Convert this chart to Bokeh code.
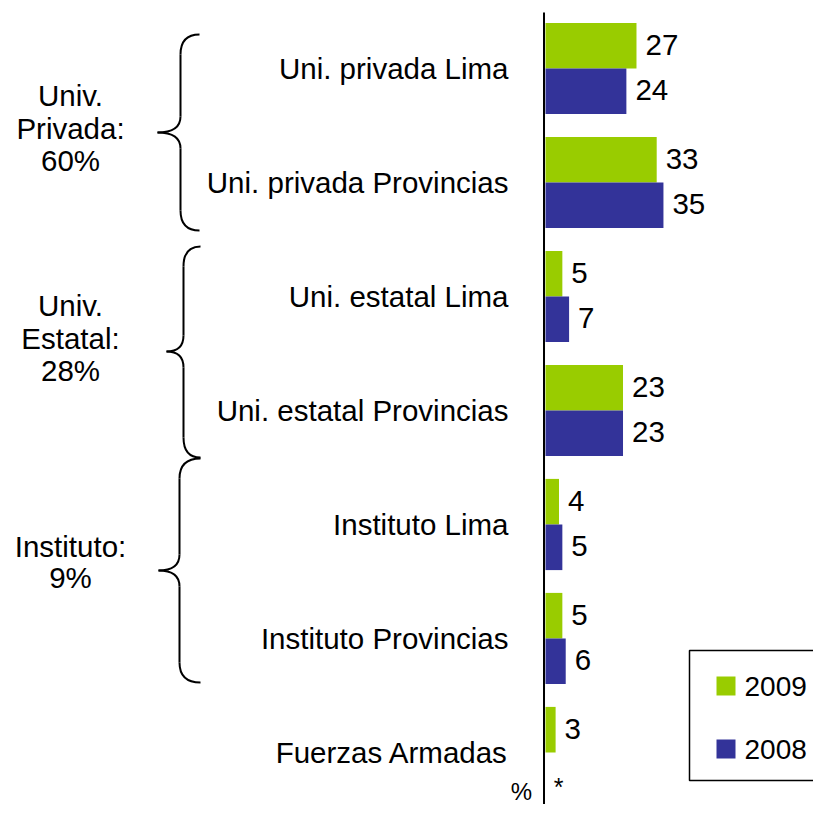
from bokeh.plotting import figure
from bokeh.models import Range1d, ColumnDataSource
from bokeh.core.properties import value
from bokeh.embed import file_html
from bokeh.resources import INLINE

# ---------------- data ----------------
categories = ["Uni. privada Lima", "Uni. privada Provincias", "Uni. estatal Lima",
              "Uni. estatal Provincias", "Instituto Lima", "Instituto Provincias",
              "Fuerzas Armadas"]
v2009 = [27, 33, 5, 23, 4, 5, 3]
v2008 = [24, 35, 7, 23, 5, 6, None]   # None -> shown as "*"
series_names = ["2009", "2008"]
group_lines = [["Univ.", "Privada:", "60%"], ["Univ.", "Estatal:", "28%"], ["Instituto:", "9%"]]
axis_unit = "%"
missing_mark = "*"

# ---------------- styles / layout ----------------
GREEN = "#99CC00"
BLUE = "#333399"
FONT = "Liberation Sans"
W, H = 813, 804
S = 3.37          # px per unit
ZERO_PX = 545     # picture x of zero
PITCH = 114       # px per category
C0 = 68           # picture y of first category centre
BAR_H = 0.4


def dx(px):
    return (px - ZERO_PX) / S


def dy(py):
    return (py - C0) / PITCH


p = figure(width=W, height=H, output_backend="svg", toolbar_location=None,
           x_range=Range1d(dx(0), dx(W)), y_range=Range1d(dy(H), dy(0)),
           x_axis_type=None, y_axis_type=None, min_border=0)
p.outline_line_color = None
p.grid.visible = False
p.background_fill_color = "white"
p.border_fill_color = "white"

n = len(categories)
idx = list(range(n))

# bars
src09 = ColumnDataSource(dict(y=[i - BAR_H / 2 for i in idx], v=v2009,
                              lab=[str(v) for v in v2009]))
p.hbar(y="y", height=BAR_H, left=0, right="v", source=src09, fill_color=GREEN, line_color=None)
y08 = [i + BAR_H / 2 for i, v in zip(idx, v2008) if v is not None]
val08 = [v for v in v2008 if v is not None]
src08 = ColumnDataSource(dict(y=y08, v=val08, lab=[str(v) for v in val08]))
p.hbar(y="y", height=BAR_H, left=0, right="v", source=src08, fill_color=BLUE, line_color=None)

lab_font = value("29.5px")
# value labels
for src in (src09, src08):
    p.text(x="v", y="y", text="lab", source=src, x_offset=9, y_offset=-1,
           text_font=value(FONT), text_font_size=lab_font, text_align="left",
           text_baseline="middle", text_color="black")
# missing marker
miss = [i + BAR_H / 2 for i, v in zip(idx, v2008) if v is None]
p.text(x=[0] * len(miss), y=miss, text=[missing_mark] * len(miss), x_offset=13, y_offset=12,
       text_font=value(FONT), text_font_size=value("25px"), text_align="center",
       text_baseline="alphabetic", text_color="black")

# category labels
p.text(x=[dx(508)] * n, y=idx, text=categories, text_font=value(FONT), text_font_size=lab_font,
       text_align="right", text_baseline="middle", text_color="black")

# axis line
p.segment(x0=[dx(543.5)], y0=[dy(12)], x1=[dx(543.5)], y1=[dy(804)], line_color="black", line_width=2)
p.text(x=[dx(521)], y=[dy(791)], text=[axis_unit], text_font=value(FONT), text_font_size=value("24px"),
       text_align="center", text_baseline="middle", text_color="black")

# group labels (line centres)
centres = [[95, 128, 160], [305, 338, 370], [546, 577]]
for lines, cs in zip(group_lines, centres):
    p.text(x=[dx(70)] * len(lines), y=[dy(c) for c in cs], text=lines, text_font=value(FONT),
           text_font_size=lab_font, text_align="center", text_baseline="middle",
           text_color="black")

# braces: (x_end, x_vert, x_tip, y_top, y_tip, y_bot)
braces = [(199, 180, 157, 34, 132, 230), (200, 183, 166, 246, 351, 457), (200, 179, 158, 458, 570, 682)]
r = 20
rt = 16
for xe, xv, xt, yt, ytip, yb in braces:
    p.quadratic(x0=[dx(xe), dx(xv), dx(xt), dx(xv)],
                y0=[dy(yt), dy(ytip - rt), dy(ytip), dy(yb - r)],
                x1=[dx(xv), dx(xt), dx(xv), dx(xe)],
                y1=[dy(yt + r), dy(ytip), dy(ytip + rt), dy(yb)],
                cx=[dx(xv), dx(xv), dx(xv), dx(xv)],
                cy=[dy(yt), dy(ytip), dy(ytip), dy(yb)],
                line_color="black", line_width=2)
    p.segment(x0=[dx(xv), dx(xv)], y0=[dy(yt + r), dy(ytip + rt)],
              x1=[dx(xv), dx(xv)], y1=[dy(ytip - rt), dy(yb - r)],
              line_color="black", line_width=2)

# legend (drawn manually; box runs off the right edge)
p.line(x=[dx(900), dx(689), dx(689), dx(900)], y=[dy(650), dy(650), dy(780), dy(780)],
       line_color="black", line_width=1.5)
p.quad(left=[dx(716), dx(716)], right=[dx(735), dx(735)], top=[dy(676), dy(739)],
       bottom=[dy(695), dy(758)], fill_color=[GREEN, BLUE], line_color=None)
p.text(x=[dx(744), dx(744)], y=[dy(686), dy(749)], text=series_names, text_font=value(FONT),
       text_font_size=value("28px"), text_align="left", text_baseline="middle", text_color="black")

open("out.html", "w").write(file_html(p, INLINE))
